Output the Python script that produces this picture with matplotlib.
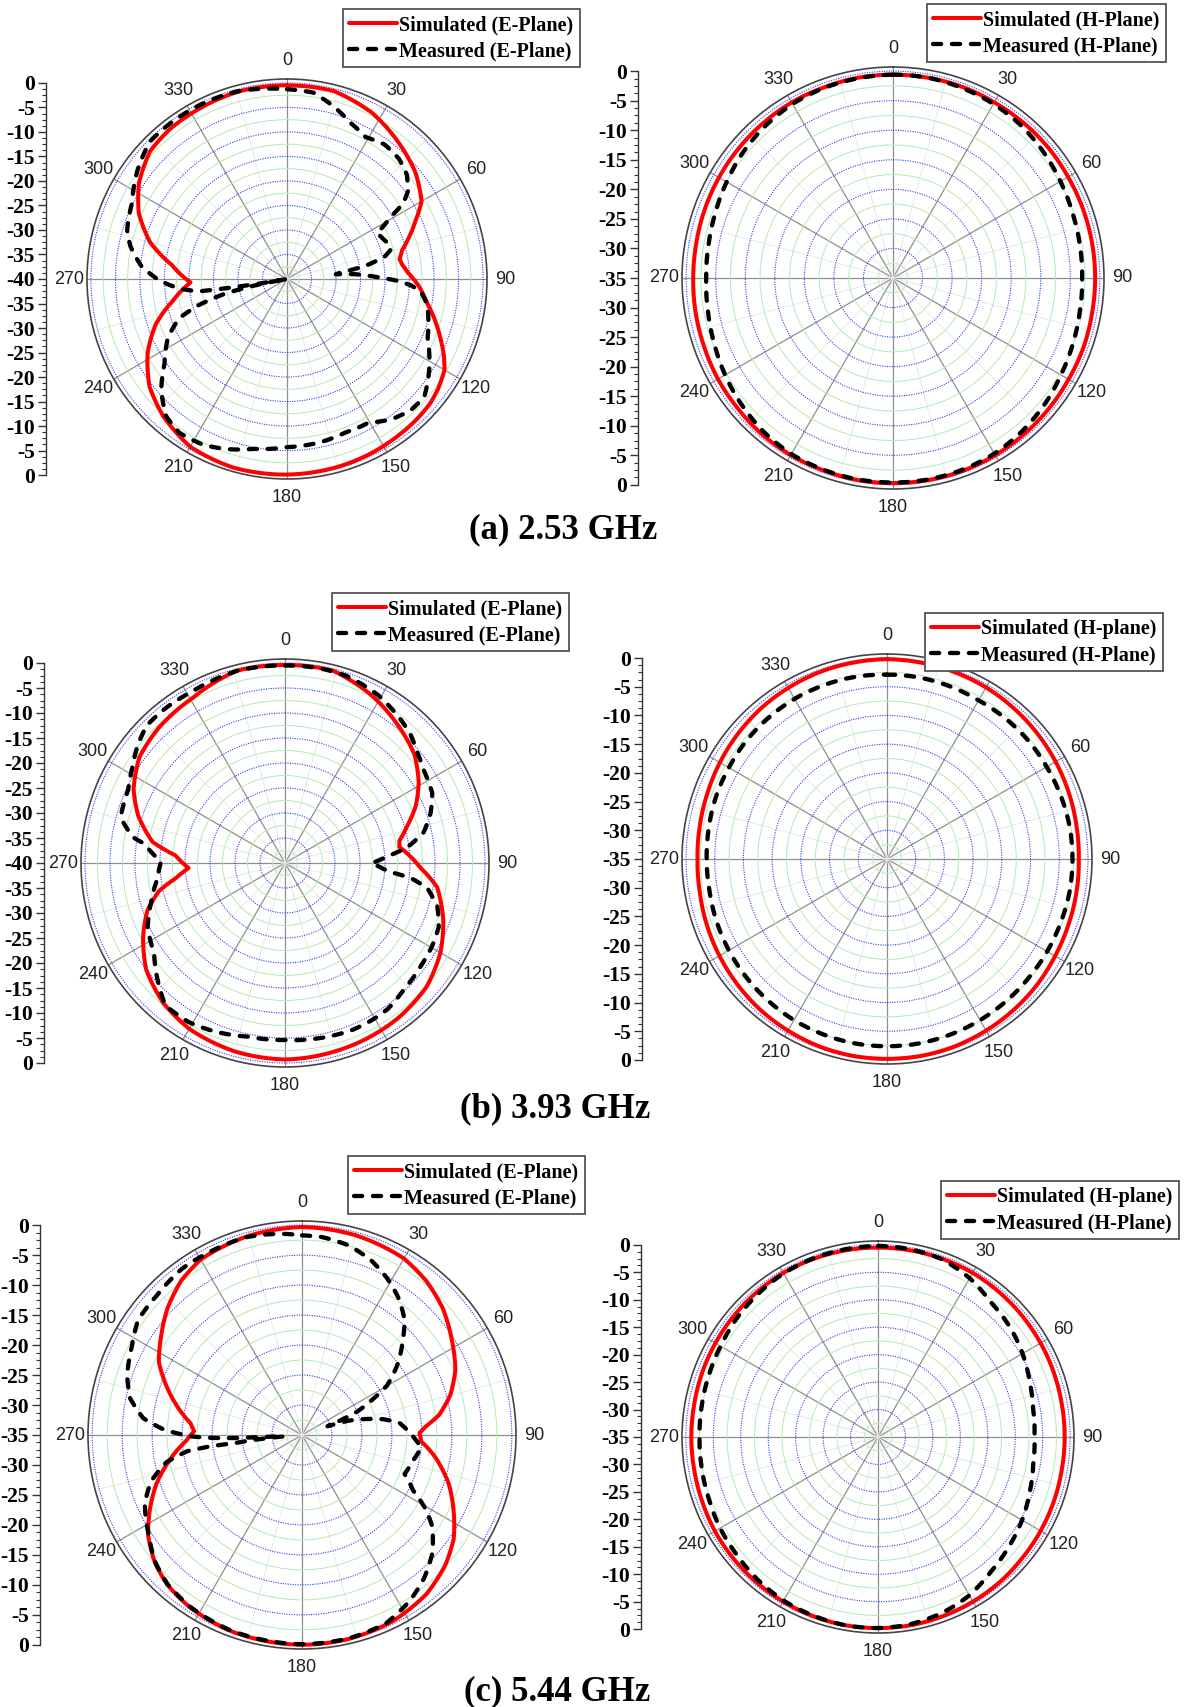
import numpy as np
import matplotlib.pyplot as plt
from matplotlib.lines import Line2D
from matplotlib.ticker import MultipleLocator, FixedLocator

W, H, DPI = 1192, 1707, 100

# ---------------- radiation pattern data (angle in deg, gain in dB) ----------------
# (a) 2.53 GHz, E-plane
a_e_sim_th = [0, 14, 27, 39, 50, 60, 66, 72, 76, 80, 83, 87, 93, 100, 106, 111, 116, 120,
              126, 131, 138, 145, 155, 165, 180, 196, 210, 222, 232, 242, 251, 259, 264,
              268, 272, 277, 285, 294, 303, 313, 322, 330, 346, 360]
a_e_sim_db = [-0.5, -0.5, -1.9, -4.0, -5.9, -8.3, -11.4, -14.1, -15.8, -16.7, -16.3, -15.3,
              -13.1, -10.9, -8.5, -6.5, -4.4, -2.9, -1.9, -1.3, -1.0, -0.8, -0.5, -0.3, -0.1,
              0.0, -0.5, -2.3, -4.4, -7.8, -11.7, -16.2, -18.5, -20.3, -18.5, -16.3, -11.1,
              -6.9, -4.0, -1.8, -1.2, -1.0, -0.5, -0.5]
a_e_mea_th = [0, 8, 15, 22, 29, 36, 43, 49, 54, 57, 59, 63, 67, 72, 74, 77, 80.5, 83, 84.5,
              86, 89, 91, 93, 95.6, 100.5, 112.7, 122.8, 130.6, 136.5, 143.3, 150.4, 159,
              168.7, 180, 191, 200, 207, 215, 221.4, 228.6, 235.3, 243.7, 250, 253.5, 256.7,
              258.7, 260, 260.7, 261.5, 262, 265, 269.3, 275, 282, 287, 296, 306, 315, 324,
              332, 345, 360]
a_e_mea_db = [-1.3, -1.6, -3.5, -5.6, -6.9, -6.1, -6.5, -7.6, -9.5, -11.8, -15.2, -19.4,
              -18.8, -17.9, -17.9, -19.5, -23.8, -28.9, -30.0, -26.0, -21.3, -17.3, -14.6,
              -12.5, -10.9, -8.9, -5.5, -3.1, -3.2, -4.3, -6.3, -6.5, -6.0, -5.7, -4.7, -3.1,
              -2.1, -1.7, -2.7, -5.8, -9.6, -12.9, -16.6, -21.2, -27.0, -33.2, -40.0, -34.0,
              -26.5, -21.8, -17.9, -14.0, -10.2, -7.3, -5.9, -4.8, -2.3, -0.4, -0.3, -0.3,
              -0.4, -1.3]

# (b) 3.93 GHz, E-plane
b_e_sim_th = [0, 14, 27, 39, 50, 59, 66.5, 73, 79, 82, 85, 92, 99, 110, 120, 131, 144, 157,
              170, 180, 195, 210, 221, 232.5, 242.5, 251, 257.5, 262, 267, 274, 279, 288,
              296, 306, 317, 330.5, 346, 360]
b_e_sim_db = [-0.4, -0.35, -2.2, -4.3, -6.2, -8.8, -11.5, -14.4, -16.7, -16.9, -15.7, -12.9,
              -9.2, -6.3, -4.1, -2.4, -1.6, -1.2, -0.9, -0.7, -1.0, -1.7, -2.9, -5.0, -8.0,
              -10.9, -14.2, -17.9, -20.7, -18.0, -13.2, -9.1, -6.3, -4.0, -3.0, -2.2, -0.35,
              -0.4]
b_e_mea_th = [0, 10, 18, 29, 38, 44, 50, 56, 64.6, 71, 77.5, 82.6, 86.5, 90.2, 94.7, 96.8,
              100, 106, 112.6, 119.6, 127.3, 136.6, 144.8, 151, 158, 169, 180, 192, 202.6,
              211.3, 220, 225.7, 235.4, 245, 254, 263, 270.6, 277.8, 279.6, 284, 287, 295,
              302, 309, 315, 322, 331.5, 346, 360]
b_e_mea_db = [-0.5, -0.45, -0.6, -1.6, -3.0, -4.0, -5.5, -6.6, -7.4, -9.2, -11.6, -15.3,
              -19.7, -22.7, -19.3, -14.7, -11.1, -8.3, -6.7, -6.2, -5.9, -5.3, -4.3, -4.1,
              -4.0, -4.3, -4.6, -4.5, -3.5, -2.8, -2.8, -4.8, -8.2, -9.7, -12.2, -14.3, -15.2,
              -11.6, -9.2, -6.7, -5.8, -5.4, -4.0, -2.2, -1.0, -0.9, -1.0, -0.4, -0.5]

# (c) 5.44 GHz, E-plane
c_e_sim_th = [0, 15, 30, 39, 48, 57.6, 67, 75, 81.7, 86, 89, 93, 99.6, 108.4, 116.3, 124.5,
              132.3, 142, 154, 167, 180, 200, 213, 222, 229, 236.7, 243.8, 251.5, 259, 267,
              272, 276, 282, 290, 297, 305, 313.6, 322, 330, 345, 360]
c_e_sim_db = [-0.3, -0.5, -1.0, -2.0, -3.4, -5.4, -7.2, -9.4, -11.9, -14.3, -15.4, -15.1,
              -12.4, -9.2, -6.8, -4.3, -2.7, -1.3, -0.45, -0.1, 0.0, -0.2, -0.7, -1.4, -2.5,
              -4.3, -6.7, -9.4, -12.4, -15.6, -17.0, -16.3, -14.0, -10.9, -8.2, -6.3, -4.1,
              -2.3, -1.2, -0.6, -0.3]
c_e_mea_th = [0, 5.6, 13.5, 21.3, 28.3, 35, 41.8, 46.7, 53, 59.8, 63, 67, 69, 71, 72.8, 76.2,
              79, 83, 90.7, 96, 103, 110.8, 116.5, 121, 125, 132, 139.6, 147, 156, 167, 180,
              200, 213, 222, 229, 237, 246.5, 253, 258.6, 262, 263, 263.2, 264.3, 265.5,
              266.8, 267.2, 267.4, 268.1, 269.3, 272.2, 276, 282, 288.7, 297.5, 305, 314,
              324, 334, 344, 354, 360]
c_e_mea_db = [-1.7, -1.8, -2.4, -3.6, -5.2, -7.0, -9.3, -11.9, -14.9, -18.6, -21.6, -25.0,
              -28.0, -30.5, -27.0, -23.8, -21.2, -18.6, -16.5, -15.0, -16.0, -16.7, -14.3,
              -10.9, -8.5, -5.7, -3.6, -2.0, -0.6, -0.2, -0.1, -0.3, -0.8, -1.5, -2.6, -4.5,
              -6.4, -8.7, -11.9, -15.7, -19.8, -24.0, -27.3, -32.0, -31.1, -27.3, -24.0,
              -20.2, -16.4, -12.0, -8.4, -5.7, -4.2, -3.0, -1.6, -1.4, -0.8, -0.8, -0.7,
              -1.25, -1.7]

# H-plane cuts, read every 10 deg (0 ... 360)
h_th = list(range(0, 361, 10))
a_h_sim_db = [-0.6, -0.6, -0.6, -0.7, -0.7, -0.7, -0.8, -0.8, -0.8, -0.8, -0.8, -0.7, -0.7,
              -0.6, -0.5, -0.4, -0.3, -0.3, -0.3, -0.3, -0.4, -0.4, -0.5, -0.7, -0.8, -1.0,
              -1.1, -1.2, -1.2, -1.1, -1.0, -0.9, -0.8, -0.7, -0.7, -0.6, -0.6]
a_h_mea_db = [-0.6, -0.6, -0.8, -1.0, -1.3, -1.8, -2.3, -2.7, -2.9, -3.0, -2.9, -2.6, -2.2,
              -1.6, -1.1, -0.7, -0.5, -0.4, -0.4, -0.4, -0.5, -0.6, -1.0, -1.6, -2.2, -2.8,
              -3.2, -3.4, -3.3, -3.0, -2.5, -1.9, -1.4, -1.0, -0.8, -0.7, -0.6]
b_h_sim_db = [-0.2, -0.3, -0.4, -0.5, -0.7, -0.9, -1.1, -1.3, -1.5, -1.6, -1.5, -1.4, -1.2,
              -0.9, -0.7, -0.5, -0.3, -0.2, -0.2, -0.2, -0.3, -0.5, -0.7, -1.0, -1.3, -1.6,
              -1.9, -2.0, -1.9, -1.7, -1.4, -1.1, -0.8, -0.6, -0.4, -0.3, -0.2]
b_h_mea_db = [-2.9, -2.9, -3.0, -3.1, -3.0, -2.9, -2.9, -2.8, -2.7, -2.7, -2.7, -2.8, -2.8,
              -2.8, -2.7, -2.6, -2.5, -2.4, -2.4, -2.4, -2.5, -2.6, -2.8, -3.0, -3.2, -3.4,
              -3.6, -3.6, -3.5, -3.3, -3.2, -3.0, -2.9, -2.8, -2.8, -2.8, -2.9]
c_h_sim_db = [-0.5, -0.5, -0.5, -0.5, -0.6, -0.7, -0.8, -0.9, -1.0, -1.0, -1.0, -0.9, -0.8,
              -0.7, -0.5, -0.4, -0.3, -0.2, -0.2, -0.2, -0.3, -0.4, -0.5, -0.6, -0.7, -0.9,
              -1.0, -1.0, -1.0, -0.9, -0.8, -0.7, -0.6, -0.5, -0.5, -0.5, -0.5]
c_h_mea_db = [-0.2, -0.3, -0.6, -1.6, -3.0, -3.7, -4.6, -5.6, -6.3, -6.5, -6.3, -5.6, -4.7,
              -3.9, -3.0, -1.7, -0.9, -0.4, -0.2, -0.2, -0.4, -0.6, -1.0, -1.5, -1.8, -2.2,
              -2.4, -2.5, -2.4, -2.2, -1.9, -1.4, -1.0, -0.6, -0.4, -0.3, -0.2]

captions = ['(a) 2.53 GHz', '(b) 3.93 GHz', '(c) 5.44 GHz']
e_labels = ['Simulated (E-Plane)', 'Measured (E-Plane)']
h_labels_a = ['Simulated (H-Plane)', 'Measured (H-Plane)']
h_labels_bc = ['Simulated (H-plane)', 'Measured (H-Plane)']

RED = '#ff0000'
SERIF = 'Liberation Serif'
SANS = 'Liberation Sans'
SIM_STYLE = dict(color=RED, lw=2.9, solid_joinstyle='round', solid_capstyle='round')
MEA_STYLE = dict(color='black', lw=3.1, ls=(0, (1.9, 2.5)), dash_capstyle='round')

fig = plt.figure(figsize=(W / DPI, H / DPI), dpi=DPI)


def px_box(x0, y0, w, h):
    # pixel box (top-left origin) -> figure fraction
    return [x0 / W, 1 - (y0 + h) / H, w / W, h / H]


def polar_line(ax, th, db, style):
    ln, = ax.plot(np.radians(th), db, **style)
    # follow the polar grid between samples instead of cutting chords
    ln.get_path()._interpolation_steps = 12
    return ln


def pattern(cx, cy, rs, rmin, ruler_x, sim, mea, labels, leg_xy):
    rng = -rmin
    rpad = 0.02 * rng
    ax = fig.add_axes(px_box(cx - rs, cy - rs, 2 * rs, 2 * rs), projection='polar')
    ax.set_theta_zero_location('N')
    ax.set_theta_direction(-1)
    ax.set_ylim(rmin, rpad)

    ax.set_xticks(np.radians(np.arange(0, 360, 30)))
    ax.set_xticklabels([str(d) for d in range(0, 360, 30)])
    ax.set_xticks(np.radians(np.arange(15, 360, 30)), minor=True)
    ax.yaxis.set_major_locator(FixedLocator(np.arange(rmin + 5, 0.1, 5)))
    ax.yaxis.set_minor_locator(FixedLocator(np.arange(rmin + 2.5, 0, 5)))
    ax.set_yticklabels([])

    ax.yaxis.grid(True, which='major', color='#3a3af0', ls=(0, (1, 1.2)), lw=0.8)
    ax.yaxis.grid(True, which='minor', color='#b4eab4', ls='-', lw=0.7)
    ax.xaxis.grid(True, which='major', color='#8f8f8f', ls='-', lw=0.9)
    ax.xaxis.grid(True, which='minor', color='#e6e6e6', ls='-', lw=0.6)
    ax.tick_params(axis='y', which='both', length=0)
    ax.tick_params(axis='x', which='major', length=0, pad=6, labelsize=13,
                   labelcolor='#222222', labelfontfamily=SANS)
    ax.tick_params(axis='x', which='minor', direction='in', length=4, width=0.8,
                   color='#555555')
    ax.spines['polar'].set_color('#444444')
    ax.spines['polar'].set_linewidth(1.2)

    polar_line(ax, *sim, SIM_STYLE)
    polar_line(ax, *mea, MEA_STYLE)

    # linear dB ruler on the left: 0 at the rim, rmin at the centre
    r0 = rs * rng / (rng + rpad)
    rax = fig.add_axes(px_box(ruler_x, cy - r0, 1, 2 * r0))
    rax.set_ylim(-rng, rng)
    rax.set_xticks([])
    for s in ['top', 'right', 'bottom']:
        rax.spines[s].set_visible(False)
    rax.spines['left'].set_linewidth(1.0)
    rax.spines['left'].set_color('#333333')
    ticks = np.arange(-rng, rng + 1, 5)
    rax.set_yticks(ticks, [f'{int(abs(t) - rng)}' for t in ticks],
                   fontfamily=SERIF, fontweight='bold', fontsize=15.5)
    rax.yaxis.set_minor_locator(MultipleLocator(1.25))
    rax.tick_params(axis='y', which='major', length=6, width=1.0, color='#333333', pad=2)
    rax.tick_params(axis='y', which='minor', length=3, width=0.8, color='#333333')
    rax.patch.set_visible(False)

    handles = [Line2D([], [], **SIM_STYLE), Line2D([], [], **MEA_STYLE)]
    leg = fig.legend(handles, labels, loc='upper left',
                     bbox_to_anchor=(leg_xy[0] / W, 1 - leg_xy[1] / H),
                     borderaxespad=0, frameon=True, fancybox=False, framealpha=1,
                     edgecolor='#555555', handlelength=2.4, handletextpad=0.1,
                     labelspacing=0.3, borderpad=0.3,
                     prop={'family': SERIF, 'weight': 'bold', 'size': 14.5})
    leg.get_frame().set_linewidth(1.3)
    return ax


# row (a)
pattern(287, 279, 200, -40, 46, (a_e_sim_th, a_e_sim_db), (a_e_mea_th, a_e_mea_db),
        e_labels, (343, 9))
pattern(893, 278, 211, -35, 638, (h_th, a_h_sim_db), (h_th, a_h_mea_db),
        h_labels_a, (927, 4))
# row (b)
pattern(285, 863, 204, -40, 44, (b_e_sim_th, b_e_sim_db), (b_e_mea_th, b_e_mea_db),
        e_labels, (332, 593))
pattern(887, 859, 205, -35, 642, (h_th, b_h_sim_db), (h_th, b_h_mea_db),
        h_labels_bc, (925, 613))
# row (c)
pattern(302, 1435, 214, -35, 40, (c_e_sim_th, c_e_sim_db), (c_e_mea_th, c_e_mea_db),
        e_labels, (348, 1156))
pattern(878, 1437, 196, -35, 641, (h_th, c_h_sim_db), (h_th, c_h_mea_db),
        h_labels_bc, (941, 1181))

for (x, y), txt in zip([(563, 530), (555, 1109), (557, 1692)], captions):
    fig.text(x / W, 1 - y / H, txt, ha='center', va='center', family=SERIF,
             weight='bold', size=25)

fig.savefig('out.png', dpi=DPI)
